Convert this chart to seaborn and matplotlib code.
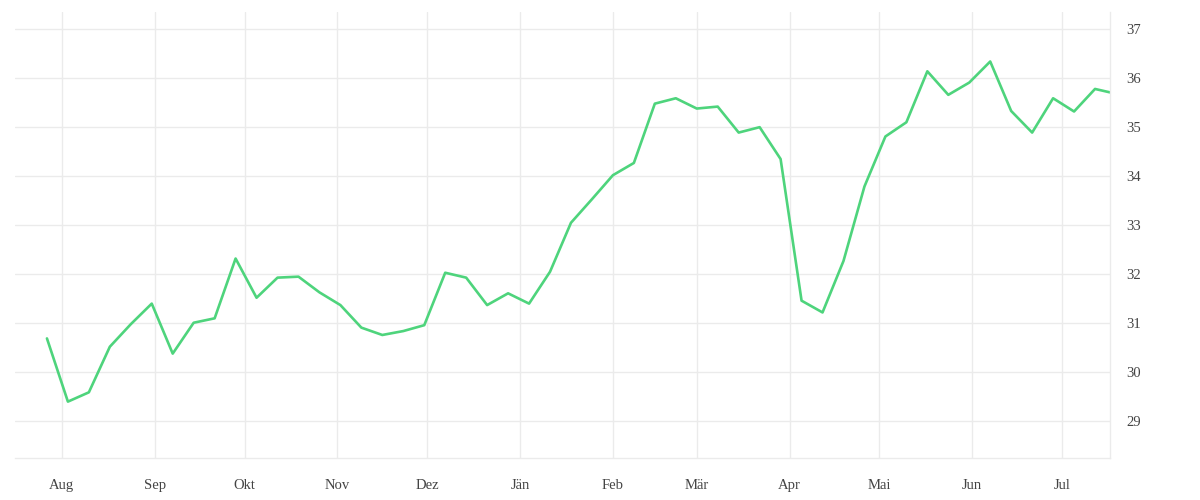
import numpy as np
import pandas as pd
import matplotlib
matplotlib.use("Agg")
import matplotlib.pyplot as plt
import matplotlib.dates as mdates
from matplotlib.ticker import FuncFormatter, FixedLocator
import seaborn as sns

# ---- data ----
dates = list(pd.date_range("2020-07-27", periods=51, freq="7D")) + [pd.Timestamp("2021-07-17")]
values = [30.69, 29.40, 29.59, 30.52, 30.98, 31.40, 30.38, 31.01, 31.10, 32.32,
          31.52, 31.93, 31.95, 31.63, 31.37, 30.91, 30.76, 30.84, 30.96, 32.03,
          31.93, 31.37, 31.61, 31.40, 32.05, 33.05, 33.53, 34.02, 34.27, 35.48,
          35.59, 35.38, 35.42, 34.89, 35.00, 34.35, 31.46, 31.22, 32.27, 33.79,
          34.81, 35.10, 36.14, 35.66, 35.91, 36.34, 35.33, 34.89, 35.59, 35.32,
          35.78, 35.71]
month_labels = ["Jän", "Feb", "Mär", "Apr", "Mai", "Jun",
                "Jul", "Aug", "Sep", "Okt", "Nov", "Dez"]
y_ticks = [29, 30, 31, 32, 33, 34, 35, 36, 37]

df = pd.DataFrame({"date": dates, "value": values})

sns.set_theme(style="white")
plt.rcParams["font.family"] = ["Liberation Serif", "DejaVu Serif"]

GRID = "#ebebeb"
TEXT = "#444444"

fig = plt.figure(figsize=(12, 5), dpi=100)
ax = fig.add_axes([15 / 1200, 42 / 500, (1110 - 15) / 1200, (458 - 12) / 500])

sns.lineplot(data=df, x="date", y="value", ax=ax, color="#4ed47c", linewidth=1.9)

ax.set_xlim(pd.Timestamp("2020-07-16 08:00"), pd.Timestamp("2021-07-17"))
ax.set_ylim(28.25, 37.35)

ax.xaxis.set_major_locator(mdates.MonthLocator())
ax.xaxis.set_major_formatter(FuncFormatter(lambda v, p: month_labels[mdates.num2date(v).month - 1]))
ax.xaxis.set_minor_locator(FixedLocator([mdates.date2num(pd.Timestamp("2021-07-17"))]))

ax.yaxis.tick_right()
ax.set_yticks(y_ticks)
ax.set_yticklabels([str(t) for t in y_ticks])

ax.grid(True, color=GRID, linewidth=1)
ax.set_xlabel("")
ax.set_ylabel("")

for s in ["top", "left"]:
    ax.spines[s].set_visible(False)
ax.spines["bottom"].set_color(GRID)
ax.spines["right"].set_color(GRID)
ax.spines["bottom"].set_linewidth(1)
ax.spines["right"].set_linewidth(1)

ax.tick_params(axis="x", which="both", length=7.2, width=1, color=GRID,
               pad=8, labelsize=10.5, labelcolor=TEXT)
ax.tick_params(axis="y", length=0, pad=12, labelsize=10.5, labelcolor=TEXT,
               right=True, left=False, labelright=True, labelleft=False)

fig.savefig("out.png", dpi=100)
